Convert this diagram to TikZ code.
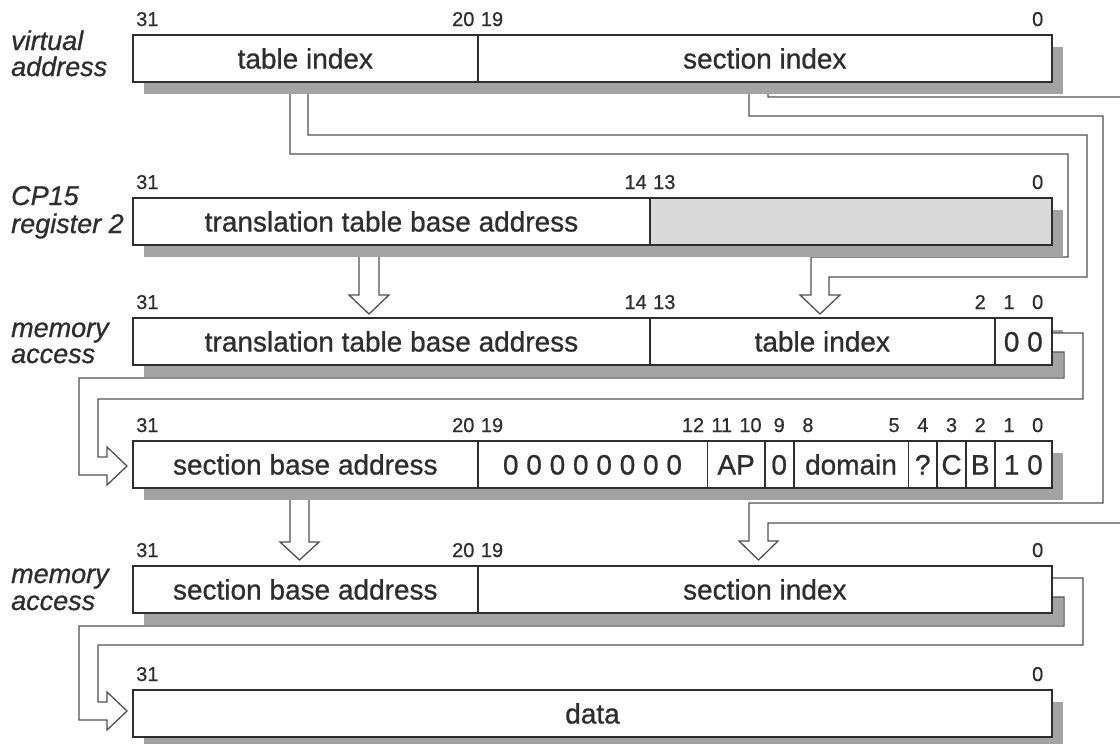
\documentclass[tikz,border=0pt]{standalone}
\usepackage{fontspec}
\setmainfont{Liberation Sans}[FakeBold=0.8]
\definecolor{ink}{HTML}{2E2E2E}
\definecolor{lineC}{HTML}{505050}
\definecolor{shade}{HTML}{A3A3A3}
\definecolor{lightfill}{HTML}{DADADA}
\begin{document}
\begin{tikzpicture}[x=1pt,y=-1pt,
  cell/.style={draw=ink, line width=1.8pt, fill=white, inner sep=0pt, outer sep=0pt,
    minimum height=47pt, anchor=north west, text=ink,
    font=\fontsize{28}{30}\selectfont\addfontfeature{FakeBold=0.8}, text height=20pt, text depth=0pt},
  bitlbl/.style={text=ink, font=\fontsize{20}{22}\selectfont\addfontfeature{FakeBold=0.6}, anchor=base, inner sep=0pt},
  rowlbl/.style={text=ink, font=\fontsize{27}{28}\selectfont\itshape\addfontfeature{FakeBold=0.8}, anchor=base west, inner sep=0pt},
  hollow/.style={draw=lineC, line width=1.3pt, fill=white, line join=miter},
  shadowbox/.style={fill=shade}]
\useasboundingbox (0,0) rectangle (1120,744);
\clip (0,0) rectangle (1120,744);
\fill[white] (0,0) rectangle (1120,744);

% hollow arrows whose tails hide under the shadows
% A: table index -> table index
\draw[hollow] (290,82) -- (290,154) -- (1068,154) -- (1068,257) -- (811,257) -- (811,295)
  -- (800,295) -- (820,314) -- (840,295) -- (829,295) -- (829,277) -- (1087,277)
  -- (1087,135) -- (308,135) -- (308,82) -- cycle;
% B: section index -> section index
\draw[hollow] (749,82) -- (749,116) -- (1103,116) -- (1103,503) -- (749,503) -- (749,541)
  -- (739,541) -- (758.5,560) -- (778,541) -- (768,541) -- (768,523) -- (1122,523)
  -- (1122,97) -- (768,97) -- (768,82) -- cycle;
% E: CP15 -> memory access
\draw[hollow] (359,245) -- (359,295) -- (349,295) -- (369,314) -- (389,295) -- (379,295)
  -- (379,245) -- cycle;
% F: section base address -> section base address
\draw[hollow] (290,488) -- (290,542) -- (280,542) -- (299.5,560) -- (319,542) -- (309,542)
  -- (309,488) -- cycle;

% shadows
\foreach \t in {35,198,318,441,566,690}
  \fill[shadowbox] (144,\t+12) rectangle (1063,\t+59);

% C: descriptor fetch -> section descriptor
\draw[hollow] (1052,333) -- (1083,333) -- (1083,399) -- (98,399) -- (98,457) -- (107,457)
  -- (107,447) -- (127,466) -- (107,485) -- (107,475) -- (79,475) -- (79,378)
  -- (1064,378) -- (1064,352) -- (1052,352) -- cycle;
% D: memory access -> data
\draw[hollow] (1052,578) -- (1083,578) -- (1083,645) -- (98,645) -- (98,702) -- (107,702)
  -- (107,692) -- (127,711) -- (107,730) -- (107,720) -- (79,720) -- (79,626)
  -- (1064,626) -- (1064,597) -- (1052,597) -- cycle;

% row 1
\node[cell, minimum width=344.6pt] (r1a) at (133,35) {table index};
\node[cell, minimum width=574.4pt] (r1b) at (477.6,35) {section index};
% row 2
\node[cell, minimum width=517pt] (r2a) at (133,198) {translation table base address};
\node[cell, minimum width=402pt, fill=lightfill] (r2b) at (650,198) {};
% row 3
\node[cell, minimum width=517pt] (r3a) at (133,318) {translation table base address};
\node[cell, minimum width=344.6pt] (r3b) at (650,318) {table index};
\node[cell, minimum width=57.4pt] (r3c) at (994.6,318) {0 0};
% row 4
\node[cell, minimum width=344.6pt] (r4a) at (133,441) {section base address};
\node[cell, minimum width=229.8pt] (r4b) at (477.6,441) {0 0 0 0 0 0 0 0};
\node[cell, minimum width=57.4pt] (r4c) at (707.4,441) {AP};
\node[cell, minimum width=28.8pt] (r4d) at (764.8,441) {0};
\node[cell, minimum width=114.8pt] (r4e) at (793.6,441) {domain};
\node[cell, minimum width=28.8pt] (r4f) at (908.4,441) {?};
\node[cell, minimum width=28.7pt] (r4g) at (937.2,441) {C};
\node[cell, minimum width=28.7pt] (r4h) at (965.9,441) {B};
\node[cell, minimum width=57.4pt] (r4i) at (994.6,441) {1 0};
% row 5
\node[cell, minimum width=344.6pt] (r5a) at (133,566) {section base address};
\node[cell, minimum width=574.4pt] (r5b) at (477.6,566) {section index};
% row 6
\node[cell, minimum width=919pt] (r6a) at (133,690) {data};

% bit numbers
\foreach \b in {31,20,19,0}
  \node[bitlbl] (ba\b) at ({133+(31.5-\b)*28.72},26) {\b};
\foreach \b in {31,14,13,0}
  \node[bitlbl] (bb\b) at ({133+(31.5-\b)*28.72},189) {\b};
\foreach \b in {31,14,13,2,1,0}
  \node[bitlbl] (bc\b) at ({133+(31.5-\b)*28.72},309) {\b};
\foreach \b in {31,20,19,12,11,10,9,8,5,4,3,2,1,0}
  \node[bitlbl] (bd\b) at ({133+(31.5-\b)*28.72},432) {\b};
\foreach \b in {31,20,19,0}
  \node[bitlbl] (be\b) at ({133+(31.5-\b)*28.72},557) {\b};
\foreach \b in {31,0}
  \node[bitlbl] (bf\b) at ({133+(31.5-\b)*28.72},681) {\b};

% row labels
\node[rowlbl] (l1a) at (11,50) {virtual};
\node[rowlbl] (l1b) at (11,76) {address};
\node[rowlbl] (l2a) at (11,205) {CP15};
\node[rowlbl] (l2b) at (11,233) {register 2};
\node[rowlbl] (l3a) at (11,337) {memory};
\node[rowlbl] (l3b) at (11,363) {access};
\node[rowlbl] (l5a) at (11,583) {memory};
\node[rowlbl] (l5b) at (11,610) {access};
\end{tikzpicture}
\end{document}
